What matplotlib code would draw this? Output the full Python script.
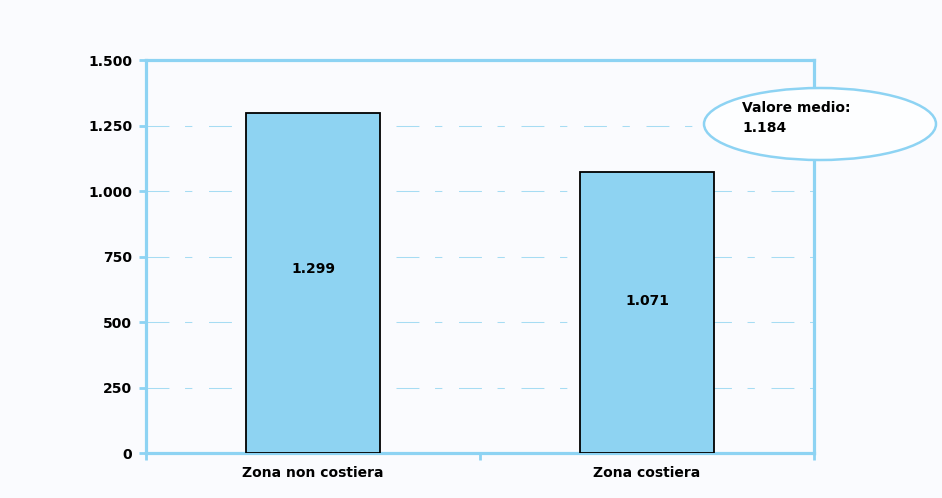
import matplotlib
matplotlib.use('Agg')
import matplotlib.pyplot as plt
from matplotlib.patches import Ellipse

# data
categories = ['Zona non costiera', 'Zona costiera']
values = [1299, 1071]
value_labels = ['1.299', '1.071']
mean_label = 'Valore medio:\n1.184'
yticks = [0, 250, 500, 750, 1000, 1250, 1500]
ytick_labels = ['0', '250', '500', '750', '1.000', '1.250', '1.500']

blue = '#8DD3F3'
bg = '#FAFBFE'

plt.rcParams['font.family'] = ['DejaVu Sans']
plt.rcParams['font.weight'] = 'bold'

fig = plt.figure(figsize=(9.42, 4.98), dpi=100, facecolor=bg)
ax = fig.add_axes([146 / 942, 1 - 453 / 498, (814 - 146) / 942, (453 - 60) / 498])
ax.set_facecolor(bg)

x = list(range(len(categories)))
ax.bar(x, values, width=0.4, color='#8ED3F2', edgecolor='black', linewidth=1.3, zorder=3)
for xi, v, lab in zip(x, values, value_labels):
    ax.text(xi, v * 0.54, lab, ha='center', va='center', fontsize=10, fontweight='bold', zorder=4)

# dash-dot gridlines
for yv in yticks[1:-1]:
    ax.axhline(yv, color='#A6DCF3', lw=0.75, linestyle=(0, (22, 15, 7, 16)), zorder=1)

ax.set_xlim(-0.5, 1.5)
ax.set_ylim(0, 1500)
ax.set_yticks(yticks)
ax.set_yticklabels(ytick_labels, fontsize=10, fontweight='bold')
ax.set_xticks([-0.5, 0.5, 1.5])
ax.set_xticklabels(['', '', ''])
ax.set_xticks(x, minor=True)
ax.set_xticklabels(categories, minor=True, fontsize=10, fontweight='bold')
ax.tick_params(axis='x', which='minor', length=0, pad=9)
ax.tick_params(axis='x', which='major', length=5, width=2, color=blue, direction='out')
ax.tick_params(axis='y', length=5, width=2, color=blue, direction='out', pad=5)

for s in ax.spines.values():
    s.set_color(blue)
    s.set_linewidth(2.3)

# mean value callout
ell = Ellipse((820 / 942, 1 - 124 / 498), 232 / 942, 72 / 498, transform=fig.transFigure,
              facecolor='#FDFEFF', edgecolor=blue, lw=1.8, zorder=10)
fig.add_artist(ell)
fig.text(742 / 942, 1 - 118 / 498, mean_label, ha='left', va='center', fontsize=10,
         fontweight='bold', linespacing=1.5, zorder=11)

fig.savefig('out.png', dpi=100, facecolor=bg)
